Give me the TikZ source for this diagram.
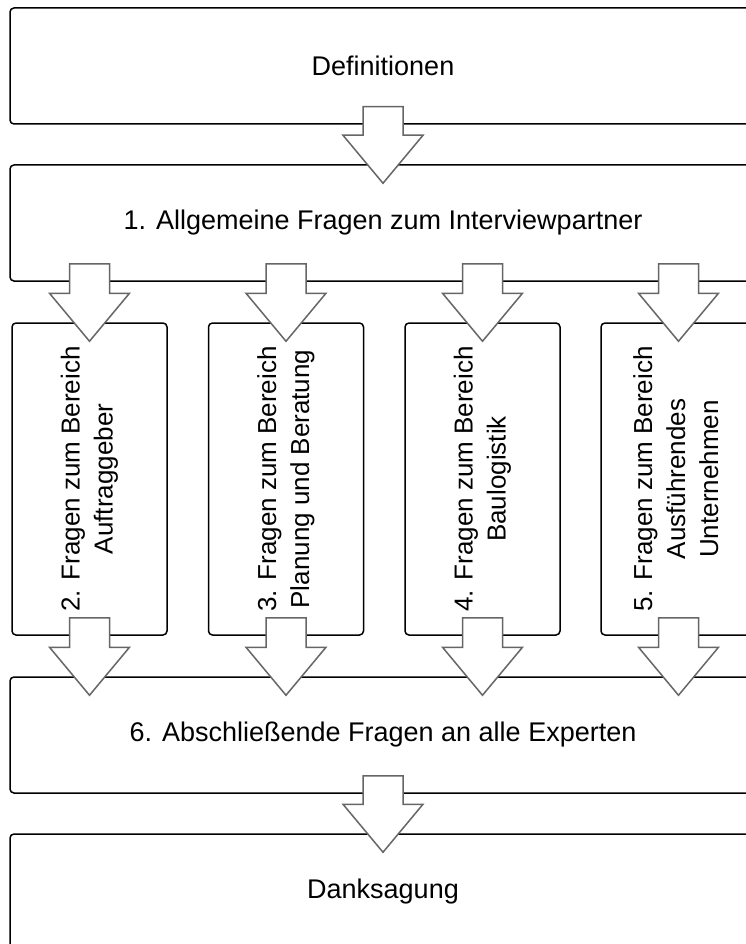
\documentclass[tikz,border=0pt]{standalone}
\usepackage{fontspec}
\setmainfont{Liberation Sans}
\usetikzlibrary{calc}
\definecolor{arrowgray}{HTML}{666666}
\tikzset{
  stage/.style={draw=black, line width=1.5pt, rounded corners=4pt, fill=white,
    minimum width=746pt, minimum height=116pt, inner sep=0pt,
    font=\fontsize{27}{32}\selectfont},
  topic/.style={draw=black, line width=1.5pt, rounded corners=4pt, fill=white,
    minimum width=155pt, minimum height=312pt, inner sep=0pt,
    font=\fontsize{26}{33}\selectfont},
  flowarrow/.style={draw=arrowgray, line width=1.5pt, fill=white, line join=miter},
}
% hollow block arrow: column node, source node, target node
\newcommand\blockarrow[3]{%
  \draw[flowarrow] let \p1=(#1.center), \p2=(#2.south), \p3=(#3.north) in
    (\x1-20pt,\y2+18pt) -- (\x1+20pt,\y2+18pt) -- (\x1+20pt,\y3+29pt)
    -- (\x1+40pt,\y3+29pt) -- (\x1,\y3-19pt) -- (\x1-40pt,\y3+29pt)
    -- (\x1-20pt,\y3+29pt) -- cycle;}
\newcommand\turned[1]{\rotatebox{90}{\begin{tabular}{@{}c@{}}#1\end{tabular}}}
\begin{document}
\begin{tikzpicture}[x=1pt,y=-1pt]
\useasboundingbox (0,0) rectangle (746,944);
\clip (0,0) rectangle (746,944);

% stages
\node[stage] (def)    at (383,66)  {Definitionen};
\node[stage] (gen)    at (383,223) {1. Allgemeine Fragen zum Interviewpartner};
\node[topic] (q2)     at (89.5,479) {\turned{2. Fragen zum Bereich\\Auftraggeber}};
\node[topic] (q3)     at (286,479)  {\turned{3. Fragen zum Bereich\\Planung und Beratung}};
\node[topic] (q4)     at (482.5,479) {\turned{4. Fragen zum Bereich\\Baulogistik}};
\node[topic] (q5)     at (678.5,479) {\turned{5. Fragen zum Bereich\\Ausführendes\\Unternehmen}};
\node[stage] (final)  at (383,735) {6. Abschließende Fragen an alle Experten};
\node[stage] (thanks) at (383,892) {Danksagung};

% connectors
\blockarrow{def}{def}{gen}
\foreach \q in {q2,q3,q4,q5}{
  \blockarrow{\q}{gen}{\q}
  \blockarrow{\q}{\q}{final}
}
\blockarrow{final}{final}{thanks}
\end{tikzpicture}
\end{document}
